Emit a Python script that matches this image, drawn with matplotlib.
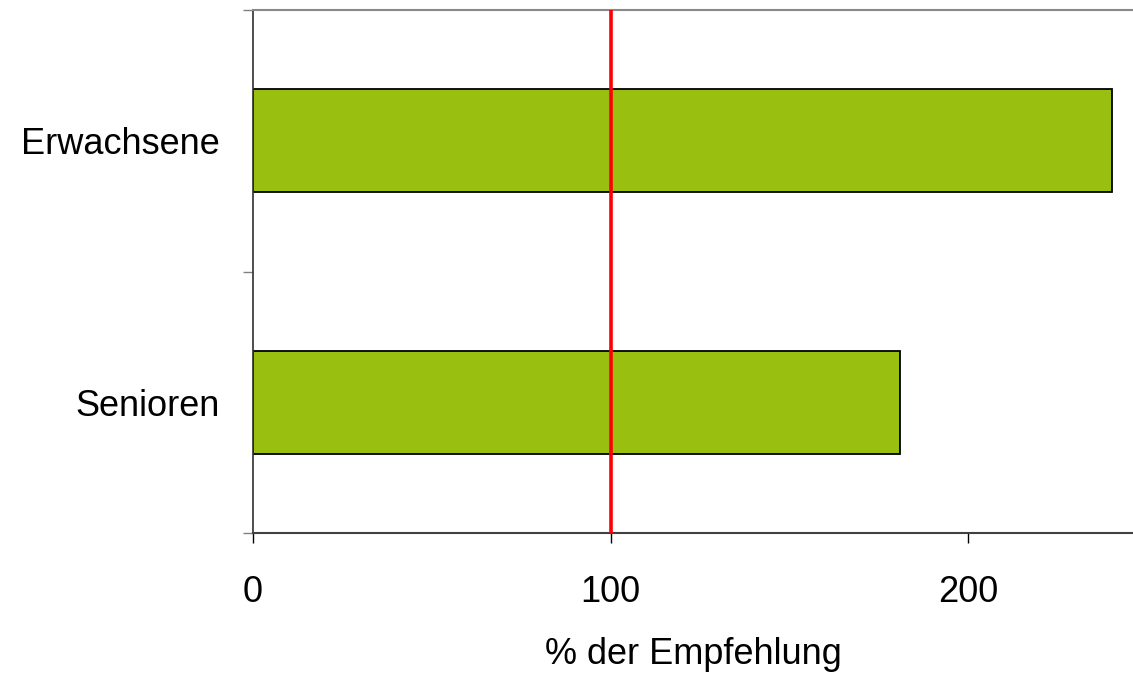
import matplotlib.pyplot as plt

plt.rcParams['font.family'] = ['Liberation Sans', 'DejaVu Sans']

# Daten
gruppen = ['Erwachsene', 'Senioren']
werte = [240, 181]
empfehlung = 100
x_ticks = [0, 100, 200]

fig = plt.figure(figsize=(11.33, 6.75), dpi=100)
ax = fig.add_axes([253 / 1133, 1 - 533 / 675, 880 / 1133, 523 / 675])

pos = list(range(len(gruppen)))
ax.barh(pos, werte, height=0.395, color='#99C010', edgecolor='black', linewidth=1.3, zorder=2)

# Linie bei 100 % der Empfehlung
ax.axvline(empfehlung, color='#FF0000', linewidth=2.6, zorder=3)

ax.set_xlim(0, 246)
ax.set_ylim(len(gruppen) - 0.5, -0.5)

ax.set_xticks(x_ticks)
ax.set_xticklabels([str(t) for t in x_ticks], fontsize=26)
ax.tick_params(axis='x', direction='out', length=7.5, width=1, color='black', pad=23)

# Striche zwischen den Gruppen, Beschriftung in der Mitte
ax.set_yticks([p - 0.5 for p in pos] + [len(gruppen) - 0.5])
ax.set_yticklabels([])
ax.set_yticks(pos, minor=True)
ax.set_yticklabels(gruppen, minor=True, fontsize=26)
ax.tick_params(axis='y', which='major', direction='out', length=7.5, width=1, color='#808080')
ax.tick_params(axis='y', which='minor', length=0, pad=24)

ax.spines['right'].set_visible(False)
ax.spines['top'].set_color('#888888')
ax.spines['top'].set_linewidth(1.5)
ax.spines['bottom'].set_color('#404040')
ax.spines['bottom'].set_linewidth(1.5)
ax.spines['left'].set_color('#303030')
ax.spines['left'].set_linewidth(1.2)

ax.set_xlabel('% der Empfehlung', fontsize=26, labelpad=19)

fig.savefig('out.png', dpi=100)
